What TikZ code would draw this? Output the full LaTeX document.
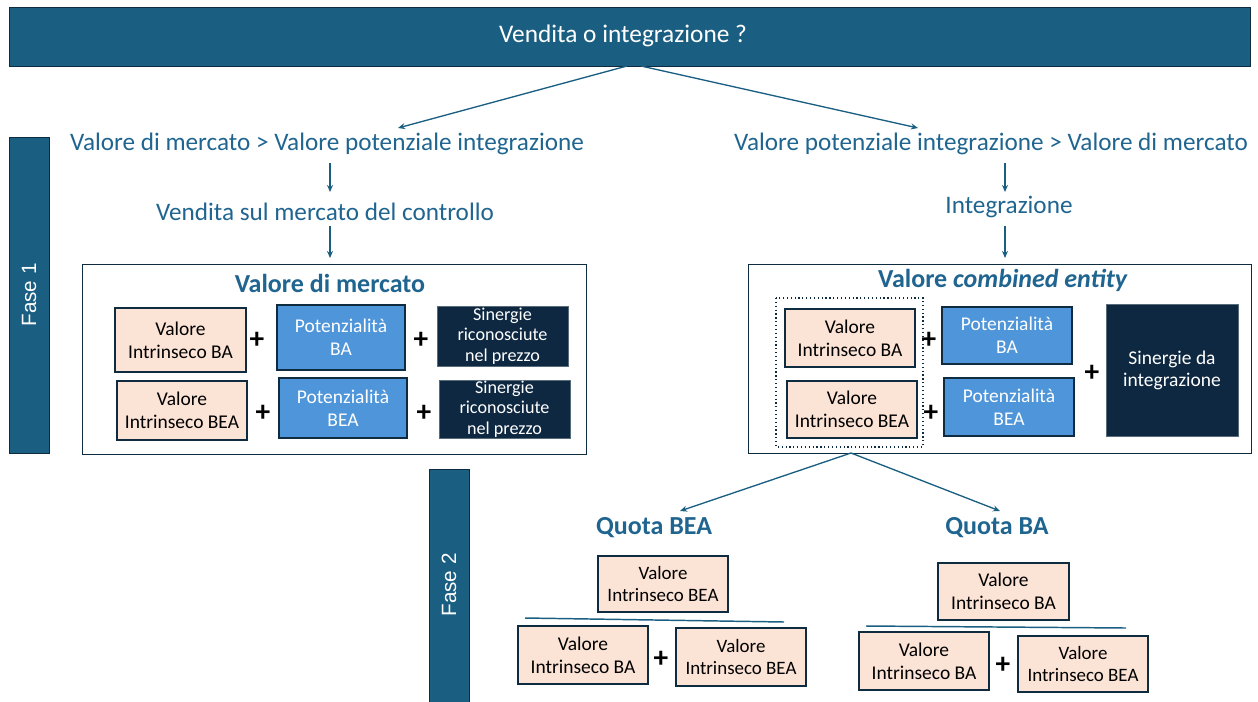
\documentclass[tikz,border=0pt]{standalone}
\usepackage{fontspec}
\setmainfont{Carlito}
\newfontfamily\arialf{Liberation Sans}
\usetikzlibrary{arrows.meta}
\definecolor{teal}{HTML}{1A5F82}
\definecolor{tealtxt}{HTML}{1F6590}
\definecolor{edge}{HTML}{0F2B3F}
\definecolor{peach}{HTML}{FBE3D6}
\definecolor{bluebox}{HTML}{4E95D9}
\definecolor{darkbox}{HTML}{0E2841}
\tikzset{
  arr/.style={draw=teal, line width=1pt, -{Stealth[length=5.3pt,width=4.5pt]}},
  lbl/.style={text=tealtxt, font=\fontsize{18.9}{22}\selectfont, inner sep=0},
  hdr/.style={text=tealtxt, font=\fontsize{19.5}{22}\selectfont\bfseries, inner sep=0},
  bigbox/.style={draw=edge, line width=1pt, fill=white},
  pbox/.style={draw=edge, line width=1pt, fill=peach, align=center, text=black, font=\fontsize{14.6}{17}\selectfont, inner sep=0},
  bbox/.style={draw=edge, line width=1pt, fill=bluebox, align=center, text=white, font=\fontsize{14.6}{17}\selectfont, inner sep=0},
  dbox/.style={draw=edge!70, line width=0.6pt, fill=darkbox, align=center, text=white, font=\fontsize{13.6}{15.2}\selectfont, inner sep=0},
  sbox/.style={pbox, font=\fontsize{14.2}{16}\selectfont},
  plus/.style={font=\fontsize{22}{22}\selectfont\bfseries, inner sep=0, text=black},
  fase/.style={draw=edge, line width=1pt, fill=teal},
}
\begin{document}
\begin{tikzpicture}[x=0.75pt,y=-0.75pt]
\useasboundingbox (0,0) rectangle (1258,701);
% title
\node[fase, minimum width=1241*0.75pt, minimum height=59*0.75pt, inner sep=0, anchor=north west] (title) at (9,7) {};
\node[text=white, font=\fontsize{19}{22}\selectfont, inner sep=0] (titlet) at (623,36) {Vendita o integrazione ?};
\coordinate (tl) at (627,66);
\coordinate (tr) at (641,66);
% phase bars
\node[fase, minimum width=40*0.75pt, minimum height=316*0.75pt, anchor=north west] (f1) at (9,137) {};
\node[text=white, rotate=90, font=\arialf\fontsize{15.5}{18}\selectfont] (f1t) at (29,295) {Fase 1};
\node[fase, minimum width=40*0.75pt, minimum height=240*0.75pt, anchor=north west] (f2) at (429,469) {};
\node[text=white, rotate=90, font=\arialf\fontsize{15.5}{18}\selectfont] (f2t) at (449,585) {Fase 2};
% left branch
\node[lbl] (cl) at (327,144) {Valore di mercato > Valore potenziale integrazione};
\node[lbl] (vs) at (325,212) {Vendita sul mercato del controllo};
\draw[arr] (tl) -- (398,128);
\draw[arr] (330,163) -- (330,192);
\draw[arr] (330,226) -- (330,258);
\node[bigbox, minimum width=504*0.75pt, minimum height=190*0.75pt, anchor=north west] (lb) at (82,264) {};
\node[hdr] (lbh) at (330,283) {Valore di mercato};
\node[pbox, minimum width=131*0.75pt, minimum height=64*0.75pt] (l11) at (180.5,340) {Valore\\Intrinseco BA};
\node[plus] (lp11) at (257,340) {+};
\node[bbox, minimum width=128*0.75pt, minimum height=65*0.75pt] (l12) at (341,337.5) {Potenzialità\\BA};
\node[plus] (lp12) at (421,340) {+};
\node[dbox, minimum width=131*0.75pt, minimum height=60*0.75pt] (l13) at (502.5,336) {Sinergie\\riconosciute\\nel prezzo};
\node[pbox, minimum width=130*0.75pt, minimum height=59*0.75pt] (l21) at (182,410.5) {Valore\\Intrinseco BEA};
\node[plus] (lp21) at (263,413) {+};
\node[bbox, minimum width=128*0.75pt, minimum height=60*0.75pt] (l22) at (343,408) {Potenzialità\\BEA};
\node[plus] (lp22) at (424,413) {+};
\node[dbox, minimum width=131*0.75pt, minimum height=58*0.75pt] (l23) at (504.5,409) {Sinergie\\riconosciute\\nel prezzo};
% right branch
\node[lbl] (cr) at (991,144) {Valore potenziale integrazione > Valore di mercato};
\node[lbl] (ig) at (1009,207) {Integrazione};
\draw[arr] (tr) -- (918,128);
\draw[arr] (1005,163) -- (1005,192);
\draw[arr] (1005,226) -- (1005,258);
\node[bigbox, minimum width=503*0.75pt, minimum height=189*0.75pt, anchor=north west] (rb) at (748,264) {};
\node[hdr] (rbh) at (1003,280) {Valore \textit{combined entity}};
\draw[edge, line width=0.9pt, dotted] (776,298) rectangle (923,447);
\node[pbox, minimum width=130*0.75pt, minimum height=58*0.75pt] (r11) at (850,338) {Valore\\Intrinseco BA};
\node[plus] (rp11) at (929,340) {+};
\node[bbox, minimum width=130*0.75pt, minimum height=57*0.75pt] (r12) at (1007,335.5) {Potenzialità\\BA};
\node[pbox, minimum width=130*0.75pt, minimum height=57*0.75pt] (r21) at (852,409.5) {Valore\\Intrinseco BEA};
\node[plus] (rp21) at (931,413) {+};
\node[bbox, minimum width=130*0.75pt, minimum height=58*0.75pt] (r22) at (1009,407) {Potenzialità\\BEA};
\node[plus] (rp3) at (1092,373) {+};
\node[dbox, minimum width=132*0.75pt, minimum height=132*0.75pt, font=\fontsize{14.6}{16.5}\selectfont] (r3) at (1172,370) {Sinergie da\\integrazione};
% phase 2
\coordinate (rs) at (851,453);
\draw[arr] (rs) -- (680,511);
\draw[arr] (rs) -- (1000,511);
\node[hdr] (qbea) at (654,528) {Quota BEA};
\node[hdr] (qba) at (997,528) {Quota BA};
\node[sbox, minimum width=130*0.75pt, minimum height=56*0.75pt] (a0) at (663,584) {Valore\\Intrinseco BEA};
\coordinate (a1) at (525,618);
\coordinate (a2) at (784,622);
\draw[teal, line width=1.1pt] (a1) -- (a2);
\node[pbox, minimum width=130*0.75pt, minimum height=58*0.75pt] (a3) at (583,655) {Valore\\Intrinseco BA};
\node[plus] (ap) at (661,659) {+};
\node[sbox, minimum width=130*0.75pt, minimum height=58*0.75pt] (a4) at (741,657) {Valore\\Intrinseco BEA};
\node[pbox, minimum width=131*0.75pt, minimum height=57*0.75pt] (b0) at (1003.5,591.5) {Valore\\Intrinseco BA};
\coordinate (b1) at (866,626);
\coordinate (b2) at (1126,628);
\draw[teal, line width=1.1pt] (b1) -- (b2);
\node[pbox, minimum width=130*0.75pt, minimum height=58*0.75pt] (b3) at (924,661) {Valore\\Intrinseco BA};
\node[plus] (bp) at (1003,665) {+};
\node[sbox, minimum width=130*0.75pt, minimum height=56*0.75pt] (b4) at (1083,664) {Valore\\Intrinseco BEA};
\end{tikzpicture}
\end{document}
